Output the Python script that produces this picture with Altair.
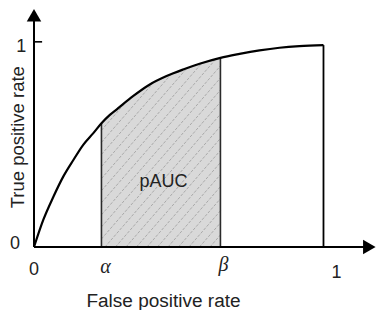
import altair as alt
import pandas as pd
import numpy as np

# ---- data ----
fpr = [0.0, 0.032, 0.067, 0.101, 0.136, 0.170, 0.205, 0.233, 0.262, 0.285, 0.342,
       0.400, 0.458, 0.515, 0.572, 0.644, 0.710, 0.779, 0.848, 0.917, 1.0]
tpr = [0.0, 0.132, 0.245, 0.343, 0.424, 0.498, 0.555, 0.603, 0.644, 0.670, 0.735,
       0.792, 0.833, 0.865, 0.893, 0.922, 0.941, 0.958, 0.971, 0.979, 0.984]
alpha_x = 0.233
beta_x = 0.644
end_x = 1.0
x_tick_values = [0, alpha_x, beta_x, 1]
x_tick_labels = ["0", "\u03b1", "\u03b2", "1"]
y_tick_values = [0, 1]
y_tick_labels = ["0", "1"]
x_title = "False positive rate"
y_title = "True positive rate"
region_label = "pAUC"

# ---- layout ----
X_MAX, Y_MAX = 1.18, 1.16
W, H = 341.6, 238
SANS, SERIF = "Liberation Sans", "Liberation Serif"
TXT = "#222222"

xscale = alt.Scale(domain=[0, X_MAX], nice=False, zero=False)
yscale = alt.Scale(domain=[0, Y_MAX], nice=False, zero=False)
xaxis = alt.Axis(title=x_title, domain=False, ticks=False, labels=False, grid=False,
                 titleX=129, titleY=59.7, titleAlign="center", titleBaseline="alphabetic",
                 titleFont=SANS, titleFontSize=19, titleFontWeight="normal", titleColor=TXT)
yaxis = alt.Axis(title=y_title, domain=False, ticks=False, labels=False, grid=False,
                 titleX=-10, titleY=127.7, titleAngle=270, titleAlign="center",
                 titleBaseline="alphabetic", titleFont=SANS, titleFontSize=18.5,
                 titleFontWeight="normal", titleColor=TXT)


def X(f):
    return alt.X(f, type="quantitative", scale=xscale, axis=xaxis)


def Y(f):
    return alt.Y(f, type="quantitative", scale=yscale, axis=yaxis)


curve = pd.DataFrame({"fpr": fpr, "tpr": tpr})
band = curve[(curve.fpr >= alpha_x - 1e-9) & (curve.fpr <= beta_x + 1e-9)]

# hatch pattern clipped to the partial area
px_x, px_y = W / X_MAX, H / Y_MAX
m = 1.15 * px_x / px_y
step = 10.5 / px_x
grid = np.linspace(alpha_x, beta_x, 3000)
fg = np.interp(grid, fpr, tpr)
rows = []
c = alpha_x - fg.max() / m
while c < beta_x:
    yl = m * (grid - c)
    inside = (yl >= 0) & (yl <= fg - 0.004)
    if inside.any():
        idx = np.where(inside)[0]
        i0, i1 = idx[0], idx[-1]
        rows.append(dict(x=grid[i0], y=yl[i0], x2=grid[i1], y2=yl[i1]))
    c += step
hatch = pd.DataFrame(rows)

area = alt.Chart(band).mark_area(color="#d9d9d9", interpolate="monotone").encode(
    x=X("fpr"), y=Y("tpr"))
hatch_l = alt.Chart(hatch).mark_rule(color="#a9a9a9", strokeWidth=1, strokeDash=[3, 1.5]).encode(
    x=X("x"), y=Y("y"), x2="x2", y2="y2")

bounds = pd.DataFrame({"x": [alpha_x, beta_x, end_x],
                       "top": np.interp([alpha_x, beta_x, end_x], fpr, tpr),
                       "base": [0, 0, 0],
                       "k": ["a", "b", "e"]})
vlines_ab = alt.Chart(bounds[bounds.k != "e"]).mark_rule(color="#2a2a2a", strokeWidth=1.6).encode(
    x=X("x"), y=Y("base"), y2="top")
vline_end = alt.Chart(bounds[bounds.k == "e"]).mark_rule(color="#000000", strokeWidth=1.8).encode(
    x=X("x"), y=Y("base"), y2="top")

line = alt.Chart(curve).mark_line(color="#000000", strokeWidth=2.2, interpolate="monotone").encode(
    x=X("fpr"), y=Y("tpr"))

axes_df = pd.DataFrame({"x": [0, 0], "y": [0, 0], "x2": [X_MAX - 0.02, 0], "y2": [0, Y_MAX - 0.03]})
axes_l = alt.Chart(axes_df).mark_rule(color="#000000", strokeWidth=2).encode(
    x=X("x"), y=Y("y"), x2="x2", y2="y2")
tick_df = pd.DataFrame({"x": [0], "y": [1], "x2": [0.028]})
tick_l = alt.Chart(tick_df).mark_rule(color="#000000", strokeWidth=1.6).encode(
    x=X("x"), y=Y("y"), x2="x2")

SIZE = 210
h = np.sqrt(SIZE) * np.sqrt(3) / 4
arr_x = alt.Chart(pd.DataFrame({"x": [X_MAX], "y": [0]})).mark_point(
    shape="triangle-right", size=SIZE, filled=True, color="#000000", opacity=1,
    strokeWidth=0, xOffset=-h).encode(x=X("x"), y=Y("y"))
arr_y = alt.Chart(pd.DataFrame({"x": [0], "y": [Y_MAX]})).mark_point(
    shape="triangle-up", size=SIZE, filled=True, color="#000000", opacity=1,
    strokeWidth=0, yOffset=h).encode(x=X("x"), y=Y("y"))

# tick labels
x_label_style = {
    "0": dict(font=SANS, fontSize=18, fontStyle="normal", dx=0, dy=28),
    "\u03b1": dict(font=SERIF, fontSize=20, fontStyle="italic", dx=4, dy=26),
    "\u03b2": dict(font=SERIF, fontSize=20, fontStyle="italic", dx=3, dy=23.6),
    "1": dict(font=SANS, fontSize=18, fontStyle="normal", dx=13, dy=31.5),
}
y_label_style = {
    "0": dict(dx=-14, dy=2),
    "1": dict(dx=-7.7, dy=10),
}
labels = []
for v, t in zip(x_tick_values, x_tick_labels):
    s = x_label_style[t]
    labels.append(alt.Chart(pd.DataFrame({"v": [v], "b": [0], "t": [t]})).mark_text(
        align="center", baseline="alphabetic", color=TXT, **s).encode(
        x=X("v"), y=Y("b"), text="t:N"))
for v, t in zip(y_tick_values, y_tick_labels):
    s = y_label_style[t]
    labels.append(alt.Chart(pd.DataFrame({"a": [0], "v": [v], "t": [t]})).mark_text(
        align="right", baseline="alphabetic", color=TXT, font=SANS, fontSize=18, **s).encode(
        x=X("a"), y=Y("v"), text="t:N"))

mid = pd.DataFrame({"x": [(alpha_x + beta_x) / 2], "y": [0.294], "t": [region_label]})
region_t = alt.Chart(mid).mark_text(align="center", baseline="alphabetic", color=TXT,
                                    font=SANS, fontSize=18, dx=2.5).encode(
    x=X("x"), y=Y("y"), text="t:N")

chart = alt.layer(area, hatch_l, vlines_ab, vline_end, line, axes_l, tick_l, arr_x, arr_y,
                  region_t, *labels).properties(
    width=W, height=H,
    autosize=alt.AutoSizeParams(type="none"),
    padding={"left": 26, "top": 1, "right": 0, "bottom": 64},
    background="white",
).configure_view(stroke=None)

chart.save("out.html", embed_options={"renderer": "svg", "actions": False})
